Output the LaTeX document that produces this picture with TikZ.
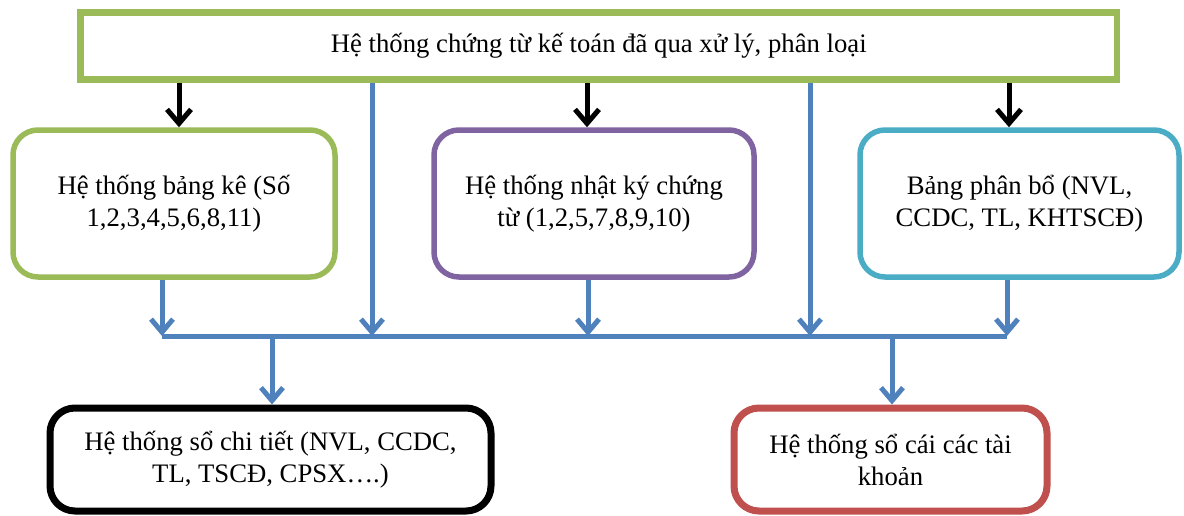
\documentclass[tikz,border=0pt]{standalone}
\usepackage{fontspec}
\setmainfont{Liberation Serif}
\usetikzlibrary{arrows.meta}
\definecolor{cgreen}{HTML}{9BBB59}
\definecolor{cpurple}{HTML}{8064A2}
\definecolor{ccyan}{HTML}{4BACC6}
\definecolor{cblue}{HTML}{4F81BD}
\definecolor{cred}{HTML}{C0504D}
\begin{document}
\begin{tikzpicture}[x=1pt,y=-1pt,
  box/.style={draw, line width=5.5pt, rounded corners=25pt, align=center,
    font=\fontsize{26.7}{32}\selectfont, inner sep=0pt, fill=white},
  blk/.style={-{Straight Barb[length=14pt,width=24pt]}, line width=5pt, black},
  blu/.style={-{Straight Barb[length=13pt,width=22pt]}, line width=5pt, cblue},
  bus/.style={line width=5pt, cblue}]
\useasboundingbox (0,0) rectangle (1184,515);
\node[box, rounded corners=0pt, draw=cgreen, line width=6.5pt,
  minimum width=1036.5pt, minimum height=67pt] (top) at (598.75,46)
  {Hệ thống chứng từ kế toán đã qua xử lý, phân loại};
\node[box, draw=cgreen, minimum width=322pt, minimum height=147pt] (b1) at (174,203.5)
  {Hệ thống bảng kê (Số\\1,2,3,4,5,6,8,11)};
\node[box, draw=cpurple, minimum width=320pt, minimum height=147pt] (b2) at (594,203.5)
  {Hệ thống nhật ký chứng\\từ (1,2,5,7,8,9,10)};
\node[box, draw=ccyan, minimum width=319pt, minimum height=147pt] (b3) at (1019.5,203.5)
  {Bảng phân bổ (NVL,\\CCDC, TL, KHTSCĐ)};
\node[box, draw=black, line width=7pt, minimum width=441pt, minimum height=103pt] (b4) at (270.5,459.5)
  {Hệ thống sổ chi tiết (NVL, CCDC,\\TL, TSCĐ, CPSX….)};
\node[box, draw=cred, line width=7pt, minimum width=313pt, minimum height=103pt] (b5) at (890.5,459.5)
  {Hệ thống sổ cái các tài\\khoản};
% bus coordinates
\coordinate (busL) at (162,336);
\coordinate (busR) at (1007,336);
\coordinate (busA) at (372,336);
\coordinate (busB) at (588,336);
\coordinate (busC) at (810,336);
\coordinate (busD) at (272,336);
\coordinate (busE) at (892,336);
% black arrows
\draw[blk] (top.south -| 179,0) -- (b1.north -| 179,0);
\draw[blk] (top.south -| 587,0) -- (b2.north -| 587,0);
\draw[blk] (top.south -| 1009,0) -- (b3.north -| 1009,0);
% bus
\draw[bus] (busL) -- (busR);
\draw[blu] (b1.south -| busL) -- (busL);
\draw[blu] (b2.south -| busB) -- (busB);
\draw[blu] (b3.south -| busR) -- (busR);
\draw[blu] (top.south -| busA) -- (busA);
\draw[blu] (top.south -| busC) -- (busC);
\draw[blu] (busD) -- (b4.north -| busD);
\draw[blu] (busE) -- (b5.north -| busE);
\end{tikzpicture}
\end{document}
